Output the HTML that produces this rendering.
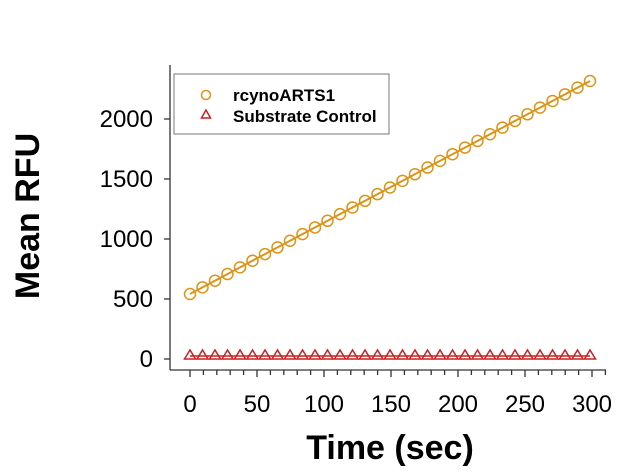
<!DOCTYPE html>
<html><head><meta charset="utf-8"><style>
html,body{margin:0;padding:0;background:#fff;}
svg{display:block;font-family:"Liberation Sans",Arial,sans-serif;}
</style></head><body>
<svg id="s" width="640" height="473" viewBox="0 0 640 473" xmlns="http://www.w3.org/2000/svg">
<rect width="640" height="473" fill="#fff"/>
<g stroke="#333" stroke-width="1.3" fill="none">
<line x1="170" y1="65" x2="170" y2="370"/>
<line x1="170" y1="370" x2="606" y2="370"/>
<line x1="164" y1="359" x2="170" y2="359"/>
<line x1="164" y1="299" x2="170" y2="299"/>
<line x1="164" y1="239" x2="170" y2="239"/>
<line x1="164" y1="179" x2="170" y2="179"/>
<line x1="164" y1="119" x2="170" y2="119"/>
</g>
<g id="xt" stroke="#333" stroke-width="1.3"></g>
<g font-size="24" fill="#000" text-anchor="end">
<text x="153" y="367">0</text>
<text x="153" y="307">500</text>
<text x="153" y="247">1000</text>
<text x="153" y="187">1500</text>
<text x="153" y="127">2000</text>
</g>
<g font-size="24" fill="#000" text-anchor="middle">
<text x="190" y="412">0</text>
<text x="257" y="412">50</text>
<text x="324" y="412">100</text>
<text x="391" y="412">150</text>
<text x="458" y="412">200</text>
<text x="525" y="412">250</text>
<text x="592" y="412">300</text>
</g>
<text x="390" y="459" font-size="34" font-weight="bold" text-anchor="middle">Time (sec)</text>
<text transform="translate(39,216) rotate(-90)" font-size="34" font-weight="bold" text-anchor="middle">Mean RFU</text>
<line x1="190" y1="294" x2="590" y2="81" stroke="#dc9418" stroke-width="2"/>
<line x1="190" y1="356" x2="590" y2="356" stroke="#cc2020" stroke-width="1.5"/>
<g id="pts"></g>
<rect x="174" y="74" width="215" height="60" fill="#fff" stroke="#777" stroke-width="1"/>
<circle cx="206" cy="95" r="4.5" fill="none" stroke="#dc9418" stroke-width="1.5"/>
<polygon points="206,110 201.5,118 210.5,118" fill="none" stroke="#cc2020" stroke-width="1.5"/>
<text x="233" y="101" font-size="17" font-weight="bold">rcynoARTS1</text>
<text x="233" y="122" font-size="17" font-weight="bold">Substrate Control</text>
</svg>
<script>
var ns="http://www.w3.org/2000/svg",xt=document.getElementById("xt"),p=document.getElementById("pts");
for(var t=0;t<=310;t+=10){var x=190+t*1.34;var l=document.createElementNS(ns,"line");l.setAttribute("x1",x);l.setAttribute("x2",x);l.setAttribute("y1",370);l.setAttribute("y2",t%50==0?377:375);xt.appendChild(l);}
for(var i=0;i<33;i++){var x=190+i*12.5;var y=294-(x-190)*(213/400);
var c=document.createElementNS(ns,"circle");c.setAttribute("cx",x);c.setAttribute("cy",y);c.setAttribute("r",5.5);c.setAttribute("fill","none");c.setAttribute("stroke","#dc9418");c.setAttribute("stroke-width","1.5");p.appendChild(c);
var g=document.createElementNS(ns,"polygon");g.setAttribute("points",x+","+350+" "+(x-5.5)+","+359+" "+(x+5.5)+","+359);g.setAttribute("fill","none");g.setAttribute("stroke","#cc2020");g.setAttribute("stroke-width","1.5");p.appendChild(g);}
</script>
</body></html>
